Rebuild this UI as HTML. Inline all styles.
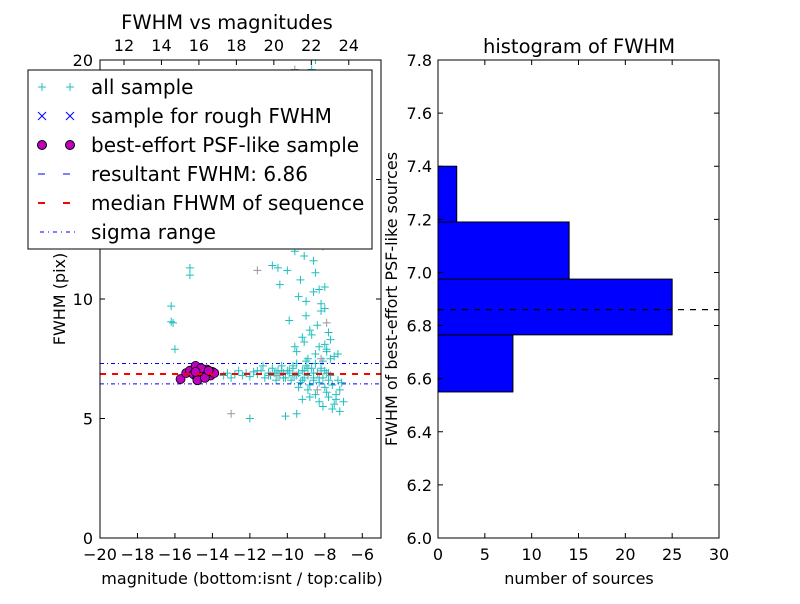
<!DOCTYPE html>
<html><head><meta charset="utf-8"><style>
body{margin:0;background:#fff;font-family:"DejaVu Sans","Liberation Sans",sans-serif;}
svg text{font-family:"DejaVu Sans","Liberation Sans",sans-serif;}
</style></head><body>
<svg id="c" width="800" height="600" xmlns="http://www.w3.org/2000/svg">
<rect width="800" height="600" fill="#fff"/>
<g id="left"></g>
<g id="right"></g>
</svg>
<script>
const allMag=[-16.2,-16.2,-16.1,-16.0,-15.2,-15.2,-13.4,-13.2,-13.0,-12.8,-12.6,-12.4,-12.2,-12.0,-11.8,-11.6,-11.4,-11.2,-11.0,-10.9,-10.8,-10.7,-10.6,-10.5,-10.4,-10.3,-10.2,-10.1,-10.0,-9.9,-9.8,-9.7,-9.6,-9.5,-9.4,-9.3,-9.2,-9.1,-9.0,-8.9,-8.8,-8.7,-8.6,-8.5,-8.4,-8.3,-8.2,-8.1,-8.0,-7.9,-7.8,-7.6,-7.4,-7.2,-7.0,-10.5,-10.2,-10.0,-9.8,-9.6,-9.4,-9.3,-9.1,-9.0,-8.9,-8.8,-8.7,-8.6,-8.5,-8.4,-8.3,-8.2,-8.1,-8.0,-7.8,-9.2,-9.0,-8.8,-8.6,-8.4,-8.2,-8.0,-7.9,-7.7,-7.5,-9.5,-9.1,-8.9,-8.7,-8.5,-8.3,-8.1,-7.9,-7.7,-7.3,-10.8,-10.4,-9.9,-9.6,-9.3,-9.0,-8.8,-8.6,-8.5,-8.4,-8.3,-8.2,-8.0,-8.7,-8.6,-8.5,-8.4,-8.3,-8.2,-9.7,-9.4,-9.2,-8.9,-8.8,-8.5,-8.3,-8.1,-7.9,-7.8,-7.6,-7.5,-7.4,-7.2,-10.1,-9.5,-12.0,-11.0,-10.3,-9.7,-9.1,-8.6,-8.2,-7.8,-7.3,-11.6,-11.3,-11.0,-10.6,-10.2,-9.9,-9.5,-9.2,-8.9,-8.6,-8.3,-8.0,-7.7,-7.1];
const allFwhm=[9.7,9.05,9.0,7.9,11.3,11.0,6.8,6.9,6.7,6.85,7.0,6.8,6.9,6.75,6.95,6.85,7.0,6.7,6.9,6.8,7.1,6.9,6.6,7.0,6.8,7.2,6.9,6.7,7.0,6.9,6.6,7.1,6.8,7.3,6.9,6.5,7.0,6.7,7.2,6.8,6.4,7.1,6.6,7.3,6.9,6.5,7.0,6.7,6.3,6.9,6.6,6.4,6.0,6.2,5.7,11.3,12.6,11.2,13.2,12.0,10.1,14.5,11.8,9.3,16.8,12.9,19.6,15.4,11.1,17.9,13.7,9.8,12.2,10.5,8.6,8.4,9.9,8.7,10.3,8.9,9.5,8.1,7.8,8.3,7.6,7.8,8.2,7.5,8.5,7.7,8.0,7.4,7.9,7.5,7.7,11.4,10.6,9.1,8.0,10.8,7.4,14.0,11.6,13.0,14.8,10.4,12.7,9.6,18.2,16.0,20.0,19.3,17.2,13.5,7.2,6.3,5.8,6.2,5.9,6.0,5.7,5.5,6.1,5.9,5.4,5.6,5.8,5.3,5.1,5.2,5.0,6.9,7.0,6.8,7.0,6.7,7.1,6.9,6.6,7.0,7.2,6.8,6.9,6.7,7.0,6.8,6.6,7.1,6.9,6.7,7.0,6.8,6.5,6.3,5.0];
const greyMag=[-13.0,-11.6,-9.6,-8.4,-8.8,-7.9,-10.5,-8.2];
const greyFwhm=[5.2,11.2,19.6,6.2,14.4,9.0,6.8,7.5];
const bestMag=[-15.7,-15.4,-15.2,-15.0,-14.9,-14.8,-14.7,-14.6,-14.5,-14.4,-14.3,-14.2,-14.1,-14.0,-13.9,-14.8,-14.6,-14.9,-14.4,-14.2];
const bestFwhm=[6.65,6.9,7.0,6.85,7.2,6.7,7.0,6.8,6.95,6.75,7.05,6.9,6.8,6.95,6.9,6.6,7.1,6.95,6.7,7.0];
const resultant=6.86, medianF=6.86, sigLo=6.45, sigHi=7.3;
const xTicks=[-20,-18,-16,-14,-12,-10,-8,-6];
const topTicks=[12,14,16,18,20,22,24];
const yTicks=[0,5,10,15,20];
const binEdges=[6.55,6.765,6.975,7.19,7.40];
const binCounts=[8,25,14,2];
const histXTicks=[0,5,10,15,20,25,30];
const histYTicks=[6.0,6.2,6.4,6.6,6.8,7.0,7.2,7.4,7.6,7.8];

const NS="http://www.w3.org/2000/svg";
function mk(p,t,a){const e=document.createElementNS(NS,t);for(const k in a)e.setAttribute(k,a[k]);p.appendChild(e);return e;}
const L=document.getElementById('left'),R=document.getElementById('right');
const lx=v=>100+(v+20)*(281/15), ly=v=>538-v*(478/20), tx=v=>100+(v-10.72)*(281/15);
mk(L,'clipPath',{id:'cl'}).appendChild(document.createElementNS(NS,'rect'));
const cr=document.querySelector('#cl rect');cr.setAttribute('x',100);cr.setAttribute('y',60);cr.setAttribute('width',281);cr.setAttribute('height',478);
const G=mk(L,'g',{'clip-path':'url(#cl)'});
function plus(g,x,y,c){const e=mk(g,'path',{d:`M${x-4},${y}h8M${x},${y-4}v8`,stroke:c,'stroke-width':1});return e;}
allMag.forEach((m,i)=>{const e=plus(G,lx(m),ly(allFwhm[i]),'#1fbfbf');

});
greyMag.forEach((m,i)=>{const e=plus(G,lx(m),ly(greyFwhm[i]),'#999');

});
[sigLo,sigHi].forEach(v=>{const e=mk(G,'line',{x1:100,x2:381,y1:ly(v),y2:ly(v),stroke:'#0000ff','stroke-dasharray':'4,3,1,3'});

});
bestMag.forEach((m,i)=>{const e=mk(G,'circle',{cx:lx(m),cy:ly(bestFwhm[i]),r:4.5,fill:'#bf00bf',stroke:'#000','stroke-width':0.8});

});
let e1=mk(G,'line',{x1:100,x2:381,y1:ly(resultant),y2:ly(resultant),stroke:'#0000ff','stroke-width':2,'stroke-dasharray':'6,6'});

let e2=mk(G,'line',{x1:100,x2:381,y1:ly(medianF),y2:ly(medianF),stroke:'#ff0000','stroke-width':2,'stroke-dasharray':'6,6'});

mk(L,'rect',{x:100,y:60,width:281,height:478,fill:'none',stroke:'#000'});
function txt(p,x,y,s,sz,anc,extra){const e=mk(p,'text',Object.assign({x:x,y:y,'font-size':sz,'text-anchor':anc||'middle'},extra||{}));e.textContent=s;return e;}
xTicks.forEach(v=>{const x=lx(v);mk(L,'path',{d:`M${x},538v-5`,stroke:'#000'});
const t=txt(L,x,560,(v<0?'\u2212':'')+Math.abs(v),16);});
topTicks.forEach(v=>{const x=tx(v);mk(L,'path',{d:`M${x},60v5`,stroke:'#000'});
const t=txt(L,x,51,String(v),16);});
yTicks.forEach(v=>{const y=ly(v);mk(L,'path',{d:`M100,${y}h5M381,${y}h-5`,stroke:'#000'});
const t=txt(L,93,y+6,String(v),16,'end');});
txt(L,242,584,'magnitude (bottom:isnt / top:calib)',16);
const yt=txt(L,0,0,'FWHM (pix)',16,'middle',{transform:'translate(65,299) rotate(-90)'});
txt(L,227,29,'FWHM vs magnitudes',19.5);
const lg=mk(L,'g',{});
mk(lg,'rect',{x:28,y:70,width:344,height:179,fill:'#fff',stroke:'#000'});
const labs=['all sample','sample for rough FWHM','best-effort PSF-like sample','resultant FWHM: 6.86','median FHWM of sequence','sigma range'];
labs.forEach((s,i)=>{const y=87+i*29;const g=mk(lg,'g',{});
if(i==0){plus(g,42,y,'#1fbfbf');plus(g,70,y,'#1fbfbf');}
if(i==1){[42,70].forEach(x=>mk(g,'path',{d:`M${x-4},${y-4}l8,8M${x-4},${y+4}l8,-8`,stroke:'#0000ff'}));}
if(i==2){[42,70].forEach(x=>mk(g,'circle',{cx:x,cy:y,r:4.5,fill:'#bf00bf',stroke:'#000'}));}
if(i==3)mk(g,'line',{x1:38,x2:76,y1:y,y2:y,stroke:'#0000ff','stroke-dasharray':'7,18'});
if(i==4)mk(g,'line',{x1:38,x2:76,y1:y,y2:y,stroke:'#ff0000','stroke-width':2,'stroke-dasharray':'7,18'});
if(i==5)mk(g,'line',{x1:40,x2:76,y1:y,y2:y,stroke:'#0000ff','stroke-dasharray':'4,4,1,4'});
txt(g,91,y+7,s,20,'start');});
const hx=v=>438+v*(281/30), hy=v=>538-(v-6)*(478/1.8);
binCounts.forEach((c,i)=>{const e=mk(R,'rect',{x:438,y:hy(binEdges[i+1]),width:hx(c)-438,height:hy(binEdges[i])-hy(binEdges[i+1]),fill:'#0000ff',stroke:'#000'});

});
const hl=mk(R,'line',{x1:438,x2:719,y1:hy(resultant),y2:hy(resultant),stroke:'#000','stroke-dasharray':'6,6','stroke-width':1.3});

mk(R,'rect',{x:438,y:60,width:281,height:478,fill:'none',stroke:'#000'});
histXTicks.forEach(v=>{const x=hx(v);mk(R,'path',{d:`M${x},538v-5M${x},60v5`,stroke:'#000'});
const t=txt(R,x,560,String(v),16);});
histYTicks.forEach(v=>{const y=hy(v);mk(R,'path',{d:`M438,${y}h5M719,${y}h-5`,stroke:'#000'});
const t=txt(R,432,y+6,v.toFixed(1),16,'end');});
txt(R,579,584,'number of sources',16);
txt(R,0,0,'FWHM of best-effort PSF-like sources',16,'middle',{transform:'translate(397,299) rotate(-90)'});
txt(R,579,53,'histogram of FWHM',19.5);
</script>
</body></html>
